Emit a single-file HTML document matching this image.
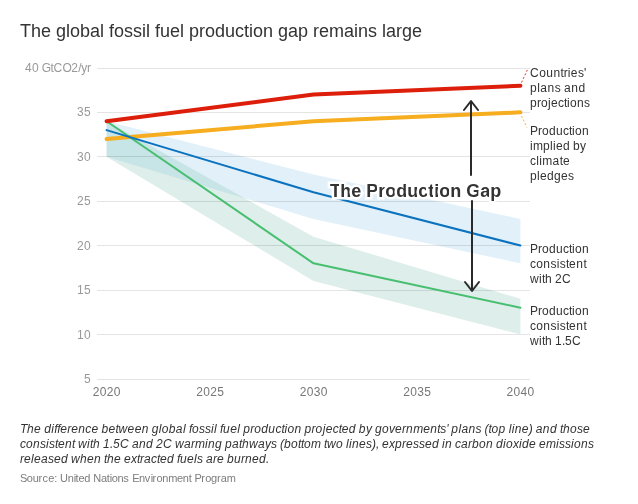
<!DOCTYPE html>
<html><head><meta charset="utf-8"><style>
html,body{margin:0;padding:0;background:#fff;width:638px;height:504px;overflow:hidden}
svg{position:absolute;left:0;top:0;will-change:transform}
svg text{font-family:"Liberation Sans", sans-serif;font-kerning:none}
</style></head><body>
<svg width="638" height="504" viewBox="0 0 638 504">
<rect width="638" height="504" fill="#fff"/>
<text x="20.00 31.00 41.00 51.00 56.00 66.00 70.00 80.00 90.00 100.00 104.00 109.00 114.00 124.00 133.00 142.00 146.00 150.00 155.00 160.00 170.00 180.00 184.00 189.00 199.00 205.00 215.00 225.00 235.00 244.00 249.00 253.00 263.00 273.00 278.00 288.00 298.00 308.00 313.00 319.00 329.00 344.00 354.00 358.00 368.00 377.00 382.00 386.00 396.00 402.00 412.00" y="37" font-size="18" fill="#333">The global fossil fuel production gap remains large</text>
<defs><clipPath id="cb"><polygon points="106.60,121.23 313.50,174.51 520.40,218.91 520.40,263.31 313.50,218.91 106.60,156.75"/></clipPath></defs>
<polygon points="106.60,121.23 313.50,174.51 520.40,218.91 520.40,263.31 313.50,218.91 106.60,156.75" fill="#e2f0f9"/>
<polygon points="106.60,121.23 313.50,236.67 520.40,298.83 520.40,334.35 313.50,281.07 106.60,156.75" fill="#deeeea"/>
<polygon points="106.60,121.23 313.50,236.67 520.40,298.83 520.40,334.35 313.50,281.07 106.60,156.75" fill="#c7e4e6" clip-path="url(#cb)"/>
<rect x="97" y="68" width="433" height="1" fill="#000" fill-opacity="0.105"/>
<rect x="97" y="112" width="433" height="1" fill="#000" fill-opacity="0.105"/>
<rect x="97" y="156" width="433" height="1" fill="#000" fill-opacity="0.105"/>
<rect x="97" y="201" width="433" height="1" fill="#000" fill-opacity="0.105"/>
<rect x="97" y="245" width="433" height="1" fill="#000" fill-opacity="0.105"/>
<rect x="97" y="290" width="433" height="1" fill="#000" fill-opacity="0.105"/>
<rect x="97" y="334" width="433" height="1" fill="#000" fill-opacity="0.105"/>
<rect x="97" y="379" width="433" height="1" fill="#000" fill-opacity="0.105"/>
<text x="25.00 31.90 38.79 41.75 50.61 53.57 62.43 71.30 78.19 81.15 87.06" y="72" font-size="12" fill="#999">40 GtCO2/yr</text>
<text x="77.00 84.00" y="116" font-size="12" fill="#999">35</text>
<text x="77.00 84.00" y="161" font-size="12" fill="#999">30</text>
<text x="77.00 84.00" y="205" font-size="12" fill="#999">25</text>
<text x="77.00 84.00" y="250" font-size="12" fill="#999">20</text>
<text x="77.00 84.00" y="294" font-size="12" fill="#999">15</text>
<text x="77.00 84.00" y="339" font-size="12" fill="#999">10</text>
<text x="84.00" y="383" font-size="12" fill="#999">5</text>
<text x="92.80 99.80 106.80 113.80" y="396" font-size="12" fill="#777">2020</text>
<text x="196.25 203.25 210.25 217.25" y="396" font-size="12" fill="#777">2025</text>
<text x="299.70 306.70 313.70 320.70" y="396" font-size="12" fill="#777">2030</text>
<text x="403.15 410.15 417.15 424.15" y="396" font-size="12" fill="#777">2035</text>
<text x="506.60 513.60 520.60 527.60" y="396" font-size="12" fill="#777">2040</text>
<polyline points="106.60,138.99 313.50,121.23 520.40,112.35" fill="none" stroke="#f6ad1f" stroke-width="4" stroke-linejoin="round" stroke-linecap="round"/>
<polyline points="106.60,121.23 313.50,263.31 520.40,307.71" fill="none" stroke="#48bf70" stroke-width="2" stroke-linejoin="round" stroke-linecap="round"/>
<polyline points="106.60,130.11 313.50,192.27 520.40,245.55" fill="none" stroke="#0a72be" stroke-width="2" stroke-linejoin="round" stroke-linecap="round"/>
<polyline points="106.60,121.23 313.50,94.59 520.40,85.71" fill="none" stroke="#dc1e0a" stroke-width="4" stroke-linejoin="round" stroke-linecap="round"/>
<line x1="521.5" y1="82.5" x2="527.3" y2="70" stroke="#dc1e0a" stroke-width="0.9" stroke-dasharray="2,2"/>
<line x1="521.5" y1="116" x2="527" y2="127.5" stroke="#f6ad1f" stroke-width="0.9" stroke-dasharray="2,2"/>
<g stroke="#2a2a2a" stroke-width="2" fill="none" stroke-linecap="round" stroke-linejoin="round">
<line x1="471" y1="101" x2="471" y2="175.7" stroke-linecap="butt"/>
<line x1="472" y1="200.3" x2="472" y2="290" stroke-linecap="butt"/>
<polyline points="464,110 471,101 478,110"/>
<polyline points="465,282 472,291 479,282"/>
</g>
<text x="330.00 340.25 351.25 361.25 366.25 378.25 385.25 396.25 407.25 418.25 428.25 434.25 439.25 450.25 461.25 466.25 480.25 490.25" y="197" font-size="18" font-weight="bold" fill="#333" stroke="#fff" stroke-width="5" stroke-linejoin="miter" stroke-miterlimit="2" paint-order="stroke">The Production Gap</text>
<text x="530.00 539.18 546.32 553.46 560.60 563.66 567.74 570.80 577.94 584.06" y="77" font-size="12" fill="#333">Countries&#x27;</text>
<text x="530.00 537.21 540.30 547.51 554.72 560.90 563.99 571.20 578.41" y="92" font-size="12" fill="#333">plans and</text>
<text x="530.00 537.00 541.00 548.00 551.00 558.00 564.00 567.00 570.00 577.00 584.00" y="107" font-size="12" fill="#333">projections</text>
<text x="530.00 538.00 542.00 549.00 556.00 563.00 569.00 572.00 575.00 582.00" y="135" font-size="12" fill="#333">Production</text>
<text x="530.00 533.00 543.00 550.00 553.00 556.00 563.00 570.00 573.00 580.00" y="150" font-size="12" fill="#333">implied by</text>
<text x="530.00 536.17 539.25 542.34 552.62 559.81 562.90" y="165" font-size="12" fill="#333">climate</text>
<text x="530.00 537.00 540.00 547.00 554.00 561.00 568.00" y="180" font-size="12" fill="#333">pledges</text>
<text x="530.00 538.00 542.00 549.00 556.00 563.00 569.00 572.00 575.00 582.00" y="253" font-size="12" fill="#333">Production</text>
<text x="530.00 536.16 543.35 550.54 556.70 559.78 565.95 569.03 576.22 583.40" y="268" font-size="12" fill="#333">consistent</text>
<text x="530.00 539.00 542.00 545.00 552.00 555.00 562.00" y="283" font-size="12" fill="#333">with 2C</text>
<text x="530.00 538.00 542.00 549.00 556.00 563.00 569.00 572.00 575.00 582.00" y="315" font-size="12" fill="#333">Production</text>
<text x="530.00 536.16 543.35 550.54 556.70 559.78 565.95 569.03 576.22 583.40" y="330" font-size="12" fill="#333">consistent</text>
<text x="530.00 539.00 542.00 545.00 552.00 555.00 562.00 565.00 572.00" y="345" font-size="12" fill="#333">with 1.5C</text>
<text x="20.00 27.04 34.08 41.12 44.13 51.17 54.19 57.20 60.22 67.26 71.28 78.32 85.36 91.39 98.43 101.45 108.48 115.52 118.54 127.59 134.63 141.67 148.70 151.72 158.76 161.78 168.81 175.85 182.89 185.91 188.92 191.94 198.98 205.01 211.04 214.06 217.08 220.09 223.11 230.15 237.19 240.20 243.22 250.26 254.28 261.32 268.36 275.40 281.43 284.45 287.46 294.50 301.54 304.56 311.60 315.62 322.66 325.67 332.71 338.74 341.76 348.80 355.84 358.85 365.89 371.93 374.94 381.98 389.02 395.05 402.09 406.11 413.15 423.21 430.24 437.28 440.30 446.33 448.34 451.36 458.40 461.41 468.45 475.49 481.52 484.54 488.56 491.58 498.62 505.66 508.67 511.69 514.71 521.74 528.78 532.81 535.82 542.86 549.90 556.94 559.95 562.97 570.01 577.05 583.08" y="433" font-size="12" font-style="italic" fill="#333">The difference between global fossil fuel production projected by governments&#x27; plans (top line) and those</text>
<text x="20.00 26.00 33.00 40.00 46.00 49.00 55.00 58.00 65.00 72.00 75.00 78.00 87.00 90.00 93.00 100.00 103.00 110.00 113.00 120.00 129.00 132.00 139.00 146.00 153.00 156.00 163.00 172.00 175.00 184.00 191.00 195.00 205.00 208.00 215.00 222.00 225.00 232.00 239.00 242.00 249.00 258.00 265.00 271.00 277.00 280.00 284.00 291.00 298.00 301.00 304.00 311.00 321.00 324.00 327.00 336.00 343.00 346.00 349.00 352.00 359.00 366.00 372.00 376.00 379.00 382.00 389.00 395.00 402.00 406.00 413.00 419.00 425.00 432.00 439.00 442.00 445.00 452.00 455.00 461.00 468.00 472.00 479.00 486.00 493.00 496.00 503.00 506.00 513.00 519.00 522.00 529.00 536.00 539.00 546.00 556.00 559.00 565.00 571.00 574.00 581.00 588.00" y="448" font-size="12" font-style="italic" fill="#333">consistent with 1.5C and 2C warming pathways (bottom two lines), expressed in carbon dioxide emissions</text>
<text x="20.00 24.00 31.00 34.00 41.00 48.00 54.00 61.00 68.00 71.00 80.00 87.00 94.00 101.00 104.00 107.00 114.00 121.00 124.00 131.00 137.00 140.00 144.00 151.00 157.00 160.00 167.00 174.00 177.00 180.00 187.00 194.00 197.00 203.00 206.00 213.00 217.00 224.00 227.00 234.00 241.00 245.00 252.00 259.00 266.00" y="463" font-size="12" font-style="italic" fill="#333">released when the extracted fuels are burned.</text>
<text x="20.00 26.83 32.68 38.53 42.43 48.28 54.13 57.05 59.98 67.78 73.63 75.58 78.51 84.36 90.21 93.13 100.93 106.79 109.71 111.66 117.51 123.36 129.21 132.14 138.96 144.81 150.67 152.62 156.52 162.37 168.22 176.99 182.84 188.69 191.62 194.55 201.37 205.27 211.12 216.97 220.87 226.72" y="482" font-size="11" fill="#7d7d7d">Source: United Nations Environment Program</text>
</svg>
</body></html>
